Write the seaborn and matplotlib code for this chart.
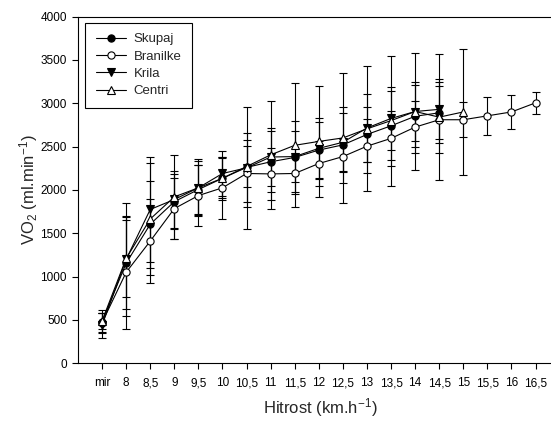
import matplotlib
matplotlib.use("Agg")
import matplotlib.pyplot as plt
import seaborn as sns
import numpy as np
import pandas as pd

# Speed stages (km/h), "mir" = at rest
speeds = ['mir', '8', '8,5', '9', '9,5', '10', '10,5', '11', '11,5', '12',
          '12,5', '13', '13,5', '14', '14,5', '15', '15,5', '16', '16,5']

# Mean VO2 (ml/min) and standard deviations per group
skupaj_mean = [480, 1155, 1605, 1865, 2005, 2135, 2260, 2325, 2375, 2460,
               2520, 2640, 2740, 2850, 2890]
skupaj_sd = [135, 530, 500, 320, 280, 230, 400, 350, 420, 320,
             440, 320, 400, 360, 350]

branilke_mean = [470, 1050, 1410, 1785, 1935, 2025, 2190, 2185, 2190, 2305,
                 2385, 2505, 2595, 2725, 2810, 2810, 2855, 2900, 3005]
branilke_sd = [110, 655, 480, 355, 355, 355, 385, 300, 210, 260,
               180, 315, 320, 300, 385, 200, 220, 195, 125]

krila_mean = [440, 1200, 1775, 1890, 2025, 2190, 2255, 2380, 2385, 2480,
              2550, 2715, 2825, 2905, 2930]
krila_sd = [145, 650, 605, 330, 310, 260, 700, 330, 290, 350,
            335, 390, 365, 345, 345]

centri_mean = [490, 1210, 1665, 1920, 2025, 2135, 2270, 2405, 2515, 2560,
               2600, 2705, 2800, 2905, 2840, 2900]
centri_sd = [90, 445, 650, 485, 330, 250, 240, 625, 715, 645,
             750, 720, 750, 670, 730, 725]

groups = ['Skupaj', 'Branilke', 'Krila', 'Centri']
means = [skupaj_mean, branilke_mean, krila_mean, centri_mean]
sds = [skupaj_sd, branilke_sd, krila_sd, centri_sd]
markers = ['o', 'o', 'v', '^']
facecolors = ['black', 'white', 'black', 'white']

rows = []
for g, m, s in zip(groups, means, sds):
    for i, (mv, sv) in enumerate(zip(m, s)):
        rows.append({'group': g, 'pos': i, 'speed': speeds[i], 'vo2': mv, 'sd': sv})
df = pd.DataFrame(rows)

sns.set_style('ticks')
plt.rcParams['font.family'] = ['Liberation Sans', 'DejaVu Sans']
plt.rcParams['mathtext.fontset'] = 'custom'
plt.rcParams['mathtext.rm'] = 'Liberation Sans'
plt.rcParams['mathtext.it'] = 'Liberation Sans'
plt.rcParams['mathtext.default'] = 'regular'

fig = plt.figure(figsize=(5.51, 4.21), dpi=100)
ax = fig.add_axes([78 / 551, 1 - 363.3 / 421, (550 - 78) / 551, (363.3 - 16.6) / 421])

for g in groups:
    sub = df[df['group'] == g]
    ax.errorbar(sub['pos'], sub['vo2'], yerr=sub['sd'], fmt='none',
                ecolor='black', elinewidth=0.8, capsize=3.2, capthick=0.8, zorder=2)

for g, mk, fc in zip(groups, markers, facecolors):
    sub = df[df['group'] == g]
    sns.lineplot(data=sub, x='pos', y='vo2', ax=ax, label=g, color='black',
                 marker=mk, markersize=5.2 if mk == 'o' else 5.8,
                 markerfacecolor=fc, markeredgecolor='black',
                 markeredgewidth=0.8, linewidth=0.8, zorder=3)

ax.set_xlim(-1, 18.6)
ax.set_ylim(0, 4000)
ax.set_xticks(range(len(speeds)))
ax.set_xticklabels(speeds)
ax.set_yticks(np.arange(0, 4001, 500))

for side in ['left', 'bottom', 'top']:
    ax.spines[side].set_visible(True)
    ax.spines[side].set_linewidth(0.8)
    ax.spines[side].set_color('black')
ax.spines['right'].set_visible(False)

ax.tick_params(axis='both', direction='out', length=4, width=0.8,
               labelsize=8.5, colors='black', pad=4)
ax.tick_params(axis='x', pad=6)

ax.set_xlabel('Hitrost (km.h$^{-1}$)', fontsize=12)
ax.set_ylabel('VO$_2$ (ml.min$^{-1}$)', fontsize=12)
ax.xaxis.set_label_coords((320 - 78) / 472, (363.3 - 408) / 346.7)
ax.yaxis.set_label_coords((29 - 78) / 472, 0.5)
ax.xaxis.label.set_va('center')
ax.yaxis.label.set_va('center')

leg = ax.legend(loc='upper left', bbox_to_anchor=(7 / 472, 1 - 6 / 346.7), fontsize=9.5,
                frameon=True, fancybox=False, framealpha=1, edgecolor='black',
                handlelength=2.3, handletextpad=0.6, labelspacing=0.38,
                borderpad=0.8, borderaxespad=0, numpoints=1)
leg.get_frame().set_linewidth(0.8)

fig.savefig('out.png', dpi=100)
